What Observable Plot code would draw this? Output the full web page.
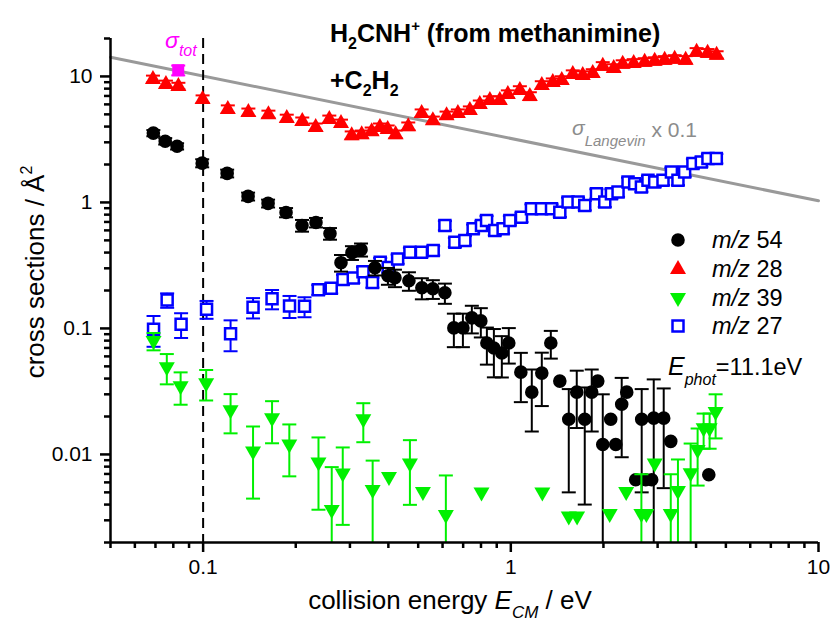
<!DOCTYPE html>
<html><head><meta charset="utf-8">
<script src="https://cdn.jsdelivr.net/npm/d3@7"></script>
<script src="https://cdn.jsdelivr.net/npm/@observablehq/plot@0.6"></script>
<style>body{margin:0;background:#fff}svg{display:block}</style>
</head><body><div id="chart"></div>
<script>
// ---- data (collision energy E_CM in eV, cross section in Å^2, error in Å^2)
const mz54_E = [0.0689,0.0753,0.0823,0.0993,0.1197,0.140,0.1626,0.186,0.2096,0.2327,0.2584,0.2806,0.3046,0.326,0.3618,0.3987,0.4202,0.4665,0.514,0.558,0.6106,0.653,0.6987,0.747,0.799,0.836,0.881,0.935,0.985,1.078,1.170,1.261,1.349,1.443,1.543,1.638,1.739,1.832,1.917,1.99,2.112,2.193,2.293,2.381,2.546,2.663,2.744,2.87,2.914,3.14,3.31,4.40];
const mz54_sigma = [3.55,3.06,2.79,2.05,1.70,1.116,0.982,0.832,0.656,0.693,0.566,0.3325,0.3995,0.422,0.3033,0.262,0.2526,0.239,0.2102,0.2064,0.1918,0.101,0.101,0.1213,0.1148,0.0766,0.0699,0.0638,0.0766,0.045,0.0312,0.0442,0.0766,0.0382,0.019,0.0312,0.019,0.0312,0.0382,0.012,0.019,0.012,0.025,0.0312,0.0063,0.019,0.0063,0.0063,0.0194,0.0194,0.0127,0.0069];
const mz54_err = [0.2,0.18,0.16,0.15,0.12,0.08,0.07,0.07,0.07,0.06,0.06,0.05,0.05,0.05,0.04,0.04,0.04,0.04,0.04,0.035,0.035,0.03,0.03,0.03,0.03,0.025,0.029,0.023,0.024,0.019,0.016,0.02,0.019,0,0.014,0.015,0.015,0.016,0,0.018,0,0,0.0155,0,0,0.014,0,0,0.02,0.014,0,0];

const mz28_E = [0.0687,0.0757,0.0831,0.0996,0.1203,0.1403,0.163,0.187,0.210,0.2322,0.2571,0.2806,0.304,0.3276,0.353,0.3755,0.398,0.4223,0.4642,0.5131,0.558,0.6183,0.673,0.736,0.793,0.855,0.921,0.978,1.070,1.153,1.261,1.369,1.464,1.590,1.713,1.846,1.990,2.160,2.310,2.508,2.723,2.935,3.162,3.408,3.70,4.016,4.36,4.665];
const mz28_sigma = [9.55,8.71,8.40,6.62,5.51,5.21,5.02,4.67,4.42,3.96,4.59,4.26,3.42,3.48,3.68,3.96,3.82,3.48,4.03,5.12,4.50,4.93,5.12,5.41,6.04,6.50,6.50,7.25,7.81,6.99,8.56,9.04,9.38,10.47,10.28,10.66,12.13,11.69,12.58,12.81,13.05,13.29,13.54,13.79,13.54,15.67,15.39,14.84];
const mz28_err = [0.6,0.55,0.5,0.45,0.38,0.35,0.33,0.3,0.3,0.27,0.3,0.28,0.24,0.24,0.25,0.27,0.26,0.24,0.28,0.35,0.3,0.33,0.35,0.37,0.4,0.45,0.45,0.5,0.55,0.5,0.6,0.6,0.65,0.7,0.7,0.75,0.85,0.8,0.85,0.9,0.9,0.9,0.95,0.95,0.95,1.1,1.1,1.0];

const mz39_E = [0.069,0.0762,0.0845,0.1023,0.1228,0.1453,0.1675,0.1906,0.2371,0.2618,0.2843,0.3316,0.3556,0.4018,0.470,0.518,0.615,0.803,1.266,1.543,1.642,2.096,2.371,2.657,2.758,2.935,3.31,3.493,3.841,4.047,4.233,4.427,4.63];
const mz39_sigma = [0.0795,0.0493,0.0348,0.0368,0.0224,0.01056,0.01936,0.0120,0.00864,0.00363,0.00706,0.0190,0.00523,0.00662,0.00848,0.00503,0.00331,0.00498,0.00498,0.00321,0.00321,0.00336,0.00503,0.00336,0.00336,0.00848,0.00336,0.00512,0.0071,0.01086,0.0161,0.0161,0.0217];
const mz39_err = [0.0125,0.0133,0.010,0.010,0.0077,0.0061,0.0071,0.0053,0.0050,0.0043,0.0043,0.0065,0.0037,0,0.0045,0,0.0035,0,0,0,0,0,0,0.0036,0,0,0.0036,0.004,0.0051,0.0052,0.005,0.005,0.0083];

const mz27_E = [0.069,0.0764,0.0848,0.1026,0.1228,0.1453,0.1675,0.1909,0.2136,0.2368,0.2608,0.2849,0.3076,0.3308,0.355,0.3763,0.3997,0.4287,0.470,0.5123,0.5594,0.6106,0.658,0.709,0.7544,0.803,0.834,0.887,0.944,0.993,1.083,1.167,1.258,1.356,1.443,1.535,1.654,1.739,1.898,2.02,2.123,2.231,2.404,2.527,2.657,2.791,2.935,3.123,3.326,3.493,3.672,3.907,4.161,4.372,4.655];
const mz27_sigma = [0.0985,0.1678,0.108,0.1422,0.0909,0.147,0.1718,0.151,0.1497,0.2027,0.2084,0.2443,0.2512,0.2818,0.2317,0.3344,0.305,0.3558,0.4018,0.4018,0.4146,0.656,0.4828,0.498,0.6172,0.656,0.7187,0.598,0.6172,0.7187,0.7636,0.891,0.891,0.891,0.837,1.006,1.006,0.946,1.173,1.006,1.173,1.208,1.451,1.409,1.324,1.497,1.451,1.497,1.743,1.497,1.743,2.034,2.095,2.229,2.229];
const mz27_err = [0.027,0.022,0.024,0.023,0.025,0.027,0.030,0.030,0.027,0.018,0.019,0.022,0.022,0.025,0.021,0.028,0.027,0.030,0.034,0.034,0.035,0.055,0.040,0.042,0.050,0.055,0.060,0.050,0.050,0.060,0.065,0.075,0.075,0.075,0.070,0.085,0.085,0.080,0.100,0.085,0.100,0.100,0.120,0.120,0.110,0.125,0.120,0.125,0.145,0.125,0.145,0.170,0.175,0.190,0.190];

const tot_E = [0.083];
const tot_sigma = [11.2];
const tot_err = [1.0];

const langevin_E = [0.05, 10];
const langevin_sigma = [14.2, 1.03];

const xMajor = [0.1, 1, 10];
const xMinor = [0.05,0.06,0.07,0.08,0.09,0.2,0.3,0.4,0.5,0.6,0.7,0.8,0.9,2,3,4,5,6,7,8,9];
const yMajor = [0.01, 0.1, 1, 10];
const yMinor = [0.002,0.003,0.004,0.005,0.006,0.007,0.008,0.009,0.02,0.03,0.04,0.05,0.06,0.07,0.08,0.09,0.2,0.3,0.4,0.5,0.6,0.7,0.8,0.9,2,3,4,5,6,7,8,9,20];

const legendLabels = ["54", "28", "39", "27"];

// ---- helpers
const YMIN = 0.002, YMAX = 20, XMIN = 0.05, XMAX = 10;
function rows(E, S, Er) {
  return E.map((e, i) => ({E: e, s: S[i], err: Er[i], hi: S[i] + Er[i],
    lo: Math.max(S[i] - Er[i], YMIN), loCap: S[i] - Er[i] > YMIN}));
}
const triUp = {draw(c) {c.moveTo(0, -9); c.lineTo(8, 5); c.lineTo(-8, 5); c.closePath();}};
const triDown = {draw(c) {c.moveTo(0, 9); c.lineTo(8, -5); c.lineTo(-8, -5); c.closePath();}};
const sq = {draw(c) {c.rect(-5.5, -5.5, 11, 11);}};
const sqFill = {draw(c) {c.rect(-6, -6, 12, 12);}};
const circ = {draw(c) {c.moveTo(6.8, 0); c.arc(0, 0, 6.8, 0, 2 * Math.PI);}};
const cap = {draw(c) {c.moveTo(-7, 0); c.lineTo(7, 0);}};

function seriesMarks(data, color, symbol, dotOpts) {
  const eb = data.filter(d => d.err > 0);
  return [
    Plot.ruleX(eb, {x: "E", y1: "lo", y2: "hi", stroke: color, strokeWidth: 2}),
    Plot.dot(eb, {x: "E", y: "hi", symbol: cap, stroke: color, strokeWidth: 2, fill: "none"}),
    Plot.dot(eb.filter(d => d.loCap), {x: "E", y: "lo", symbol: cap, stroke: color, strokeWidth: 2, fill: "none"}),
    Plot.dot(data, {x: "E", y: "s", symbol, ...dotOpts})
  ];
}

const d54 = rows(mz54_E, mz54_sigma, mz54_err);
const d28 = rows(mz28_E, mz28_sigma, mz28_err);
const d39 = rows(mz39_E, mz39_sigma, mz39_err);
const d27 = rows(mz27_E, mz27_sigma, mz27_err);
const dtot = rows(tot_E, tot_sigma, tot_err);
const dlang = langevin_E.map((e, i) => ({E: e, s: langevin_sigma[i]}));

const GREEN = "#00f000";

const svg = Plot.plot({
  width: 831, height: 625,
  marginLeft: 110, marginRight: 13, marginTop: 38, marginBottom: 83,
  style: {fontFamily: "'Liberation Sans', Arial, sans-serif", fontSize: "21px", background: "#fff", color: "#000"},
  x: {type: "log", domain: [XMIN, XMAX]},
  y: {type: "log", domain: [YMIN, YMAX]},
  marks: [
    Plot.line(dlang, {x: "E", y: "s", stroke: "#999", strokeWidth: 3}),
    Plot.ruleX([0.1], {stroke: "#000", strokeWidth: 2, strokeDasharray: "10,6"}),
    ...seriesMarks(d27, "#0000ff", sq, {fill: "#fff", stroke: "#0000ff", strokeWidth: 2.5}),
    ...seriesMarks(d54, "#000", circ, {fill: "#000", stroke: "none"}),
    ...seriesMarks(d28, "#ff0000", triUp, {fill: "#ff0000", stroke: "none"}),
    ...seriesMarks(d39, GREEN, triDown, {fill: GREEN, stroke: "none"}),
    ...seriesMarks(dtot, "#ff00ff", sqFill, {fill: "#ff00ff", stroke: "none"}),
    Plot.axisX({ticks: xMinor, tickSize: 6, tickFormat: () => "", strokeWidth: 2.5, label: null}),
    Plot.axisX({ticks: xMajor, tickSize: 10, tickPadding: 7, tickFormat: d => String(d), strokeWidth: 2.5, label: null}),
    Plot.axisY({ticks: yMinor, tickSize: 6, tickFormat: () => "", strokeWidth: 2.5, label: null}),
    Plot.axisY({ticks: yMajor, tickSize: 10, tickPadding: 8, tickFormat: d => String(d), strokeWidth: 2.5, label: null}),
    Plot.ruleY([YMIN], {stroke: "#000", strokeWidth: 2.5}),
    Plot.ruleX([XMIN], {stroke: "#000", strokeWidth: 2.5})
  ]
});

const s = d3.select(svg);
function addText(x, y, parts, attrs) {
  const t = s.append("text").attr("x", x).attr("y", y).attr("text-anchor", "start").style("white-space", "pre");
  for (const [k, v] of Object.entries(attrs || {})) t.attr(k, v);
  for (const p of parts) {
    const ts = t.append("tspan").text(p.t);
    if (p.dy) ts.attr("dy", p.dy);
    if (p.size) ts.attr("font-size", p.size);
    if (p.italic) ts.attr("font-style", "italic");
  }
  return t;
}

// title
addText(330, 42, [{t: "H"}, {t: "2", size: 16, dy: 7}, {t: "CNH", dy: -7}, {t: "+", size: 15, dy: -11}, {t: " (from methanimine)", dy: 11}],
  {"font-size": 25, "font-weight": "bold", fill: "#000"});
addText(330, 89, [{t: "+C"}, {t: "2", size: 16, dy: 7}, {t: "H", dy: -7}, {t: "2", size: 16, dy: 7}],
  {"font-size": 25, "font-weight": "bold", fill: "#000"});

// sigma_tot label
addText(165, 48, [{t: "σ", italic: true}, {t: "tot", size: 16, italic: true, dy: 8}], {"font-size": 23, fill: "#ff00ff"});
// Langevin label
addText(572, 135, [{t: "σ", italic: true}, {t: "Langevin", size: 15, italic: true, dy: 11}, {t: " x 0.1", dy: -9}], {"font-size": 21, fill: "#8c8c8c"});

// legend
const legY = [240, 269, 298, 326];
const legSyms = [
  {sym: circ, fill: "#000", stroke: "none", sw: 0},
  {sym: triUp, fill: "#ff0000", stroke: "none", sw: 0},
  {sym: triDown, fill: GREEN, stroke: "none", sw: 0},
  {sym: sq, fill: "#fff", stroke: "#0000ff", sw: 2.5}
];
legSyms.forEach((L, i) => {
  const p = d3.path(); L.sym.draw(p);
  s.append("path").attr("d", p.toString()).attr("transform", `translate(678,${legY[i]})`)
    .attr("fill", L.fill).attr("stroke", L.stroke).attr("stroke-width", L.sw);
  addText(712, legY[i] + 8, [{t: "m/z", italic: true}, {t: " " + legendLabels[i]}], {"font-size": 23.5, fill: "#000"});
});
addText(668, 375, [{t: "E", italic: true, size: 25}, {t: "phot", italic: true, size: 16, dy: 10}, {t: "=11.1eV", dy: -10}], {"font-size": 23.5, fill: "#000"});

// axis titles
addText(450, 609, [{t: "collision energy "}, {t: "E", italic: true}, {t: "CM", italic: true, size: 17, dy: 9}, {t: " / eV", dy: -9}],
  {"font-size": 26, "text-anchor": "middle", fill: "#000"});
addText(0, 0, [{t: "cross sections / Å"}, {t: "2", size: 16, dy: -12}],
  {"font-size": 26, "text-anchor": "middle", fill: "#000", transform: "translate(44,272) rotate(-90)"});

document.getElementById("chart").appendChild(svg);
</script>
</body></html>
